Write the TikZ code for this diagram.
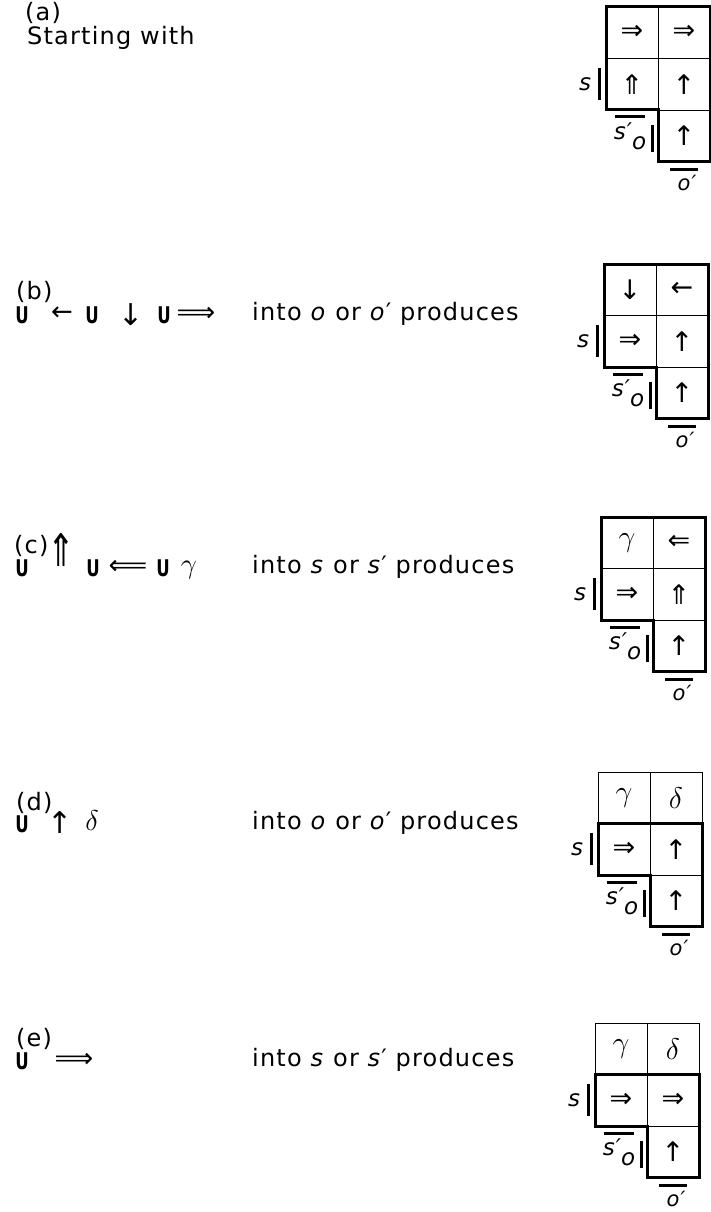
\documentclass[tikz,border=0pt]{standalone}
\usepackage{graphicx}
\usepackage{fontspec}
\setmainfont{DejaVu Sans}[LetterSpace=5]
\newfontfamily\arrowfont{DejaVu Sans}
\tikzset{
 cell/.style={draw, line width=0.8pt, minimum width=52pt, minimum height=51.5pt, inner sep=0pt, outer sep=0pt, font=\arrowfont\fontsize{27}{30}\selectfont},
 thickline/.style={line width=3pt, line join=miter, line cap=rect},
 barline/.style={line width=3pt},
 lbl/.style={anchor=west, inner sep=0pt, font=\fontsize{24}{28}\selectfont},
 sym/.style={inner sep=0pt, font=\arrowfont\fontsize{30}{32}\selectfont},
 ub/.style={inner sep=0pt, font=\arrowfont\fontsize{23}{24}\selectfont\bfseries},
 glab/.style={inner sep=0pt, font=\fontsize{23}{26}\selectfont\itshape},
}
\newcommand\gam{{\fontsize{24.88}{28}\selectfont\scalebox{1.2}{$\gamma$}}}
\newcommand\del{{\fontsize{24.88}{28}\selectfont\scalebox{1.2}{$\delta$}}}
\newcommand\bu{\scalebox{0.72}[1]{U}}
\newcommand\gridpanel[9]{%
\begin{scope}[shift={(#2,#3)}]
\node[cell] (#1-11) at (26,25.75) {#4};
\node[cell] (#1-12) at (78,25.75) {#5};
\node[cell] (#1-21) at (26,77.25) {#6};
\node[cell] (#1-22) at (78,77.25) {#7};
\node[cell] (#1-31) at (78,128.75) {#8};
\draw[thickline] (#1-#91.north west) -- (#1-#92.north east) -- (#1-31.south east) -- (#1-31.south west) -- (#1-31.north west) -- (#1-21.south west) -- cycle;
\draw[barline] (-7,61) -- (-7,93);
\node[glab] (#1-s) at (-21,77) {s};
\draw[barline] (9,110) -- (39,110);
\node[glab] (#1-sp) at (24,129) {s′\raisebox{-0.45em}{o}};
\draw[barline] (46,118) -- (46,145);
\draw[barline] (64,162) -- (92,162);
\node[glab, font=\fontsize{21}{24}\selectfont\itshape] (#1-op) at (81,176) {o′};
\end{scope}}
\begin{document}
\begin{tikzpicture}[x=1pt,y=-1pt]
\fill[white] (0,0) rectangle (710,1212);
\path[use as bounding box] (0,0) rectangle (710,1212);
% (a)
\node[lbl] (a-lab) at (25,13) {(a)};
\node[lbl] (a-txt) at (27,38) {Starting with};
\gridpanel{pa}{606}{7}{⇒}{⇒}{⇑}{↑}{↑}{1}
% (b)
\node[lbl] (b-lab) at (16,292) {(b)};
\node[ub] (b-u1) at (22,315) {\bu};
\node[sym, font=\arrowfont\fontsize{26}{28}\selectfont] (b-ar1) at (62,314) {←};
\node[ub] (b-u2) at (92,315) {\bu};
\node[sym] (b-ar2) at (131,315) {↓};
\node[ub] (b-u3) at (164,315) {\bu};
\node[sym, font=\arrowfont\fontsize{27}{28}\selectfont] (b-ar3) at (196,314) {⟹};
\node[lbl] (b-txt) at (252,314) {into \textit{o} or \textit{o}′ produces};
\gridpanel{pb}{604}{264}{↓}{←}{⇒}{↑}{↑}{1}
% (c)
\node[lbl] (c-lab) at (14,546) {(c)};
\node[ub] (c-u1) at (22,568) {\bu};
\node[sym] (c-ar1) at (61,550) {\scalebox{1.1}[1.5]{⇑}};
\node[ub] (c-u2) at (93,568) {\bu};
\node[sym, font=\arrowfont\fontsize{27}{28}\selectfont] (c-ar2) at (128,567) {⟸};
\node[ub] (c-u3) at (163,568) {\bu};
\node[sym, font=\fontsize{24.88}{26}\selectfont] (c-g) at (189,570) {\scalebox{1.15}{$\gamma$}};
\node[lbl] (c-txt) at (252,567) {into \textit{s} or \textit{s}′ produces};
\gridpanel{pc}{601}{517}{\gam}{⇐}{⇒}{⇑}{↑}{1}
% (d)
\node[lbl] (d-lab) at (16,803) {(d)};
\node[ub] (d-u1) at (22,824) {\bu};
\node[sym] (d-ar1) at (60,823) {↑};
\node[sym, font=\fontsize{24.88}{28}\selectfont] (d-d) at (92,821) {\scalebox{1.15}{$\delta$}};
\node[lbl] (d-txt) at (252,823) {into \textit{o} or \textit{o}′ produces};
\gridpanel{pd}{598}{772}{\gam}{\del}{⇒}{↑}{↑}{2}
% (e)
\node[lbl] (e-lab) at (16,1039) {(e)};
\node[ub] (e-u1) at (22,1061) {\bu};
\node[sym, font=\arrowfont\fontsize{27}{28}\selectfont] (e-ar1) at (74,1060) {⟹};
\node[lbl] (e-txt) at (252,1060) {into \textit{s} or \textit{s}′ produces};
\gridpanel{pe}{595}{1023}{\gam}{\del}{⇒}{⇒}{↑}{2}
\end{tikzpicture}
\end{document}
